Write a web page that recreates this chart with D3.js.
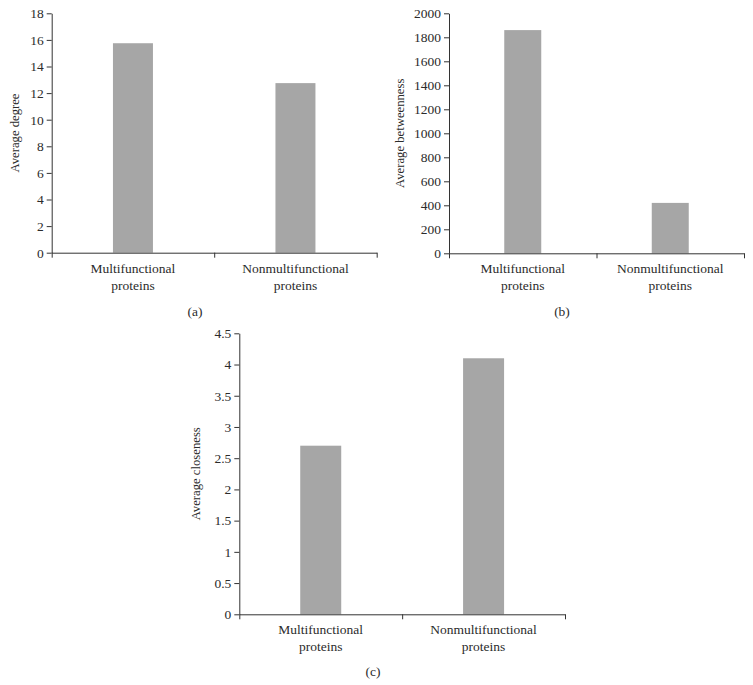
<!DOCTYPE html>
<html>
<head>
<meta charset="utf-8">
<script src="https://cdn.jsdelivr.net/npm/d3@7"></script>
<style>
  body { margin: 0; background: #fff; }
  svg text { font-family: "Liberation Serif", serif; fill: #2b2b2b; }
</style>
</head>
<body>
<svg id="chart" width="753" height="685"></svg>
<script>
const categories = ["Multifunctional proteins", "Nonmultifunctional proteins"];
const degreeValues = [15.75, 12.75];
const betweennessValues = [1860, 420];
const closenessValues = [2.7, 4.1];
const degreeTicks = [0, 2, 4, 6, 8, 10, 12, 14, 16, 18];
const betweennessTicks = [0, 200, 400, 600, 800, 1000, 1200, 1400, 1600, 1800, 2000];
const closenessTicks = [0, 0.5, 1, 1.5, 2, 2.5, 3, 3.5, 4, 4.5];

const FONT = "Liberation Serif";
const svg = d3.select("#chart");

// one bar panel
const drawPanel = (opts) => {
  const { left, top, width, height, values, ticks, yLabel, tag, labelX, barW } = opts;
  const g = svg.append("g").attr("transform", `translate(${left},${top})`);

  const x = d3.scaleBand().domain(categories).range([0, width]);
  const y = d3.scaleLinear().domain([0, d3.max(ticks)]).range([height, 0]);

  // bars
  g.selectAll(".bar")
    .data(values)
    .join("rect")
    .attr("class", "bar")
    .attr("x", (d, i) => x(categories[i]) + x.bandwidth() / 2 - barW / 2)
    .attr("width", barW)
    .attr("y", (d) => y(d))
    .attr("height", (d) => height - y(d))
    .attr("fill", "#a6a6a6");

  // y axis
  const yAxis = g.append("g")
    .call(d3.axisLeft(y).tickValues(ticks).tickSize(5).tickSizeOuter(0).tickPadding(3)
      .tickFormat(d3.format("")));
  yAxis.attr("font-family", FONT).attr("font-size", 13.5);

  // x axis with ticks at category edges
  const xEdge = d3.scaleLinear().domain([0, 2]).range([0, width]);
  const xAxis = g.append("g")
    .attr("transform", `translate(0,${height})`)
    .call(d3.axisBottom(xEdge).tickValues([0, 1, 2]).tickSize(5).tickSizeOuter(0).tickFormat(""));

  [yAxis, xAxis].forEach((a) => {
    a.select(".domain").attr("stroke", "#333");
    a.selectAll(".tick line").attr("stroke", "#333");
  });

  // category labels, two lines
  categories.forEach((c, i) => {
    const words = c.split(" ");
    const t = g.append("text")
      .attr("text-anchor", "middle")
      .attr("font-family", FONT)
      .attr("x", x(c) + x.bandwidth() / 2)
      .attr("y", height + 20)
      .style("font-size", "13.5px");
    words.forEach((w, j) => {
      t.append("tspan")
        .attr("x", x(c) + x.bandwidth() / 2)
        .attr("dy", j === 0 ? 0 : 17)
        .text(w);
    });
  });

  // y axis title
  g.append("text")
    .attr("transform", `translate(${labelX},${height / 2}) rotate(-90)`)
    .attr("text-anchor", "middle")
    .attr("font-family", FONT)
    .style("font-size", "12.7px")
    .text(yLabel);

  // panel tag
  g.append("text")
    .attr("x", tag.x - left)
    .attr("y", tag.y - top)
    .attr("text-anchor", "middle")
    .attr("font-family", FONT)
    .style("font-size", "13.5px")
    .text(tag.text);
};

drawPanel({
  left: 51.7, top: 13.3, width: 325, height: 239.4,
  values: degreeValues, ticks: degreeTicks, yLabel: "Average degree",
  tag: { x: 195, y: 316, text: "(a)" }, labelX: -33, barW: 40
});

drawPanel({
  left: 449, top: 13.3, width: 295, height: 240,
  values: betweennessValues, ticks: betweennessTicks, yLabel: "Average betweenness",
  tag: { x: 562, y: 316, text: "(b)" }, labelX: -45, barW: 37
});

drawPanel({
  left: 239.3, top: 333.3, width: 325.7, height: 281,
  values: closenessValues, ticks: closenessTicks, yLabel: "Average closeness",
  tag: { x: 373, y: 676, text: "(c)" }, labelX: -39, barW: 41
});
</script>
</body>
</html>
